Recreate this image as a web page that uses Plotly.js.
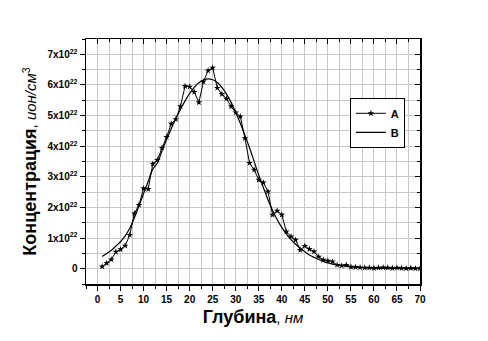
<!DOCTYPE html>
<html><head><meta charset="utf-8">
<script src="https://cdn.plot.ly/plotly-3.0.1.min.js"></script>
<style>html,body{margin:0;padding:0;background:#fff}</style>
</head><body><div id="chart" style="width:488px;height:341px"></div>
<script>
// Series A (measured), concentration in units of 1e22 ion/cm^3
const depthA = [1,2,3,4,5,6,7,8,9,10,11,12,13,14,15,16,17,18,19,20,21,22,23,24,25,26,27,28,29,30,31,32,33,34,35,36,37,38,39,40,41,42,43,44,45,46,47,48,49,50,51,52,53,54,55,56,57,58,59,60,61,62,63,64,65,66,67,68,69,70];
const concA = [0.07,0.18,0.30,0.55,0.63,0.75,1.10,1.80,2.08,2.62,2.60,3.42,3.55,3.94,4.30,4.73,4.88,5.30,5.96,5.94,5.77,5.43,6.11,6.47,6.56,5.90,5.70,5.55,5.30,5.10,4.97,4.26,3.45,3.23,2.90,2.81,2.52,1.76,1.89,1.76,1.21,1.05,0.94,0.61,0.74,0.64,0.56,0.39,0.29,0.26,0.23,0.12,0.10,0.12,0.06,0.05,0.04,0.03,0.03,0.02,0.03,0.04,0.03,0.02,0.03,0.02,0.01,0.02,0.01,0.01];
// Series B (fitted curve)
const depthB = [1,2,3,4,5,6,7,8,9,10,11,12,13,14,15,16,17,18,19,20,21,22,23,24,25,26,27,28,29,30,31,32,33,34,35,36,37,38,39,40,41,42,43,44,45,46,47,48,49,50,52,55,60,65,70];
const concB = [0.40,0.50,0.60,0.74,0.88,1.07,1.32,1.66,2.05,2.45,2.85,3.25,3.45,3.85,4.22,4.57,4.90,5.20,5.48,5.72,5.92,6.07,6.16,6.20,6.17,6.08,5.92,5.70,5.43,5.10,4.75,4.35,3.95,3.50,3.05,2.65,2.25,1.90,1.60,1.35,1.13,0.95,0.80,0.67,0.55,0.45,0.37,0.30,0.24,0.19,0.12,0.06,0.02,0.01,0.005];
// Tick labels
const xTicks = [0,5,10,15,20,25,30,35,40,45,50,55,60,65,70];
const yTickVals = [0,1,2,3,4,5,6,7];
const yTickText = ['0','1x10<sup>22</sup>','2x10<sup>22</sup>','3x10<sup>22</sup>','4x10<sup>22</sup>','5x10<sup>22</sup>','6x10<sup>22</sup>','7x10<sup>22</sup>'];

const F = 'Liberation Sans, Arial, sans-serif';
const traces = [
  {x: depthA, y: concA, name: '<b>A</b>', mode: 'lines+markers', type: 'scatter',
   line: {color: '#000', width: 1}, marker: {symbol: 'star', size: 5, color: '#000'}},
  {x: depthB, y: concB, name: '<b>B</b>', mode: 'lines', type: 'scatter',
   line: {color: '#000', width: 1.2, shape: 'spline'}},
  {x: [], y: [], xaxis: 'x2', yaxis: 'y2', showlegend: false, hoverinfo: 'skip'}
];
const xr = [-2.5, 70], yr = [-0.5, 7.5];
const layout = {
  width: 488, height: 341,
  margin: {l: 86, r: 68, t: 39, b: 57},
  paper_bgcolor: '#fff', plot_bgcolor: '#fff',
  font: {family: F, color: '#000'},
  showlegend: true,
  legend: {x: 0.79, y: 0.76, xanchor: 'left', yanchor: 'top', bgcolor: '#fff',
           bordercolor: '#000', borderwidth: 1, font: {size: 11, family: F}, tracegroupgap: 0,
           itemwidth: 30},
  xaxis: {range: xr, tickvals: xTicks, ticks: 'outside', ticklen: 5, tickwidth: 1, tickcolor: '#000',
          showline: true, linecolor: '#000', linewidth: 1.5, mirror: true, zeroline: false,
          showgrid: true, gridcolor: '#c8c8c8', gridwidth: 1,
          minor: {dtick: 2.5, tick0: 0, ticks: 'outside', ticklen: 3, tickcolor: '#000', showgrid: true, gridcolor: '#c8c8c8'},
          tickfont: {size: 10, family: F, weight: 'bold'},
          title: {text: '<b>Глубина</b><span style="font-size:15px">, <i>нм</i></span>', font: {size: 18, family: F}, standoff: 7}},
  yaxis: {range: yr, tickvals: yTickVals, ticktext: yTickText, ticks: 'outside', ticklen: 5, tickwidth: 1, tickcolor: '#000',
          showline: true, linecolor: '#000', linewidth: 1.5, mirror: true, zeroline: false,
          showgrid: true, gridcolor: '#c8c8c8', gridwidth: 1,
          minor: {dtick: 0.5, tick0: 0, ticks: 'outside', ticklen: 3, tickcolor: '#000', showgrid: true, gridcolor: '#c8c8c8'},
          tickfont: {size: 10, family: F, weight: 'bold'},
          title: {text: '<b>Концентрация</b><span style="font-size:15px">, <i>ион/см</i><sup>3</sup></span>', font: {size: 18, family: F}, standoff: 6}},
  xaxis2: {overlaying: 'x', side: 'top', range: xr, tickvals: xTicks, ticks: 'inside', ticklen: 5, tickcolor: '#000',
           showticklabels: false, showgrid: false, zeroline: false, showline: false,
           minor: {dtick: 2.5, tick0: 0, ticks: 'inside', ticklen: 3, tickcolor: '#000'}},
  yaxis2: {overlaying: 'y', side: 'right', range: yr, tickvals: yTickVals, ticks: 'inside', ticklen: 5, tickcolor: '#000',
           showticklabels: false, showgrid: false, zeroline: false, showline: false,
           minor: {dtick: 0.5, tick0: 0, ticks: 'inside', ticklen: 3, tickcolor: '#000'}}
};
Plotly.newPlot('chart', traces, layout, {staticPlot: true, displayModeBar: false});
</script></body></html>
